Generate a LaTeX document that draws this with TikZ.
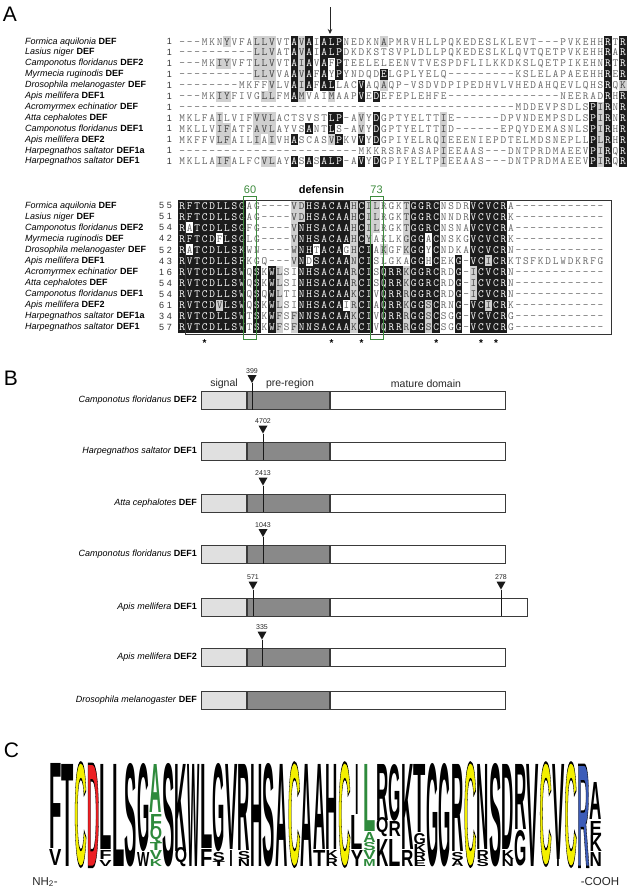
\documentclass[tikz,border=0pt]{standalone}
\usepackage{fontspec}
\setmainfont{Liberation Sans}
\setsansfont{Liberation Sans}
\usepackage{graphicx}
\usetikzlibrary{positioning,arrows.meta}

\definecolor{alnblack}{HTML}{1C1C1C}
\definecolor{alngray}{HTML}{D0D0D0}
\definecolor{alntext}{HTML}{666666}
\definecolor{motifgreen}{HTML}{3D8B3D}
\definecolor{signalgray}{HTML}{E0E0E0}
\definecolor{pregray}{HTML}{898989}
\definecolor{barline}{HTML}{3A3A3A}
\definecolor{logoyellow}{HTML}{F4F000}
\definecolor{logored}{HTML}{EC2024}
\definecolor{logoblue}{HTML}{3C5CB8}
\definecolor{logogreen}{HTML}{2E8A3C}

% alignment rows: one cell per residue, shading code k (black), g (grey), . (none)
\newcount\alncol
\newcommand\alnxo{178.5}
\newcommand\alnpitch{7.47}
\makeatletter
\newcommand\alnrow[4]{%
  \alncol=0
  \def\aln@nm{#1}\def\aln@y{#2}%
  \aln@step#3\@nil#4\@nil}
\def\aln@step#1#2\@nil#3#4\@nil{%
  \aln@cell{#1}{#3}%
  \advance\alncol by 1
  \ifx\relax#2\relax\expandafter\@gobble\else\expandafter\@firstofone\fi
  {\aln@step#2\@nil#4\@nil}}
\def\aln@cell#1#2{%
  \pgfmathsetmacro\aln@cx{\alnxo+(\the\alncol+0.5)*\alnpitch}%
  \if k#2%
    \fill[alnblack] (\aln@cx-3.76,\aln@y-5.55) rectangle (\aln@cx+3.76,\aln@y+5.55);
    \node[seqchar,text=white] (\aln@nm-\the\alncol) at (\aln@cx,\aln@y) {#1};
  \else\if g#2%
    \fill[alngray] (\aln@cx-3.76,\aln@y-5.55) rectangle (\aln@cx+3.76,\aln@y+5.55);
    \node[seqchar,text=black!75] (\aln@nm-\the\alncol) at (\aln@cx,\aln@y) {#1};
  \else
    \node[seqchar] (\aln@nm-\the\alncol) at (\aln@cx,\aln@y) {#1};
  \fi\fi}
\makeatother

% logo letters: column, top, bottom, colour, letter
\newcommand\lgl[5]{%
  \pgfmathsetmacro\lgx{49+(#1-2)*12.57}%
  \pgfmathsetmacro\lgh{#3-#2}%
  \node[logochar,text=#4] (lg#1#5) at (\lgx,#3) {\resizebox{12.3pt}{\lgh pt}{#5}};}
\newcommand\lgi[4]{%
  \pgfmathsetmacro\lgx{49+(#1-2)*12.57+6.15}%
  \pgfmathsetmacro\lgh{#3-#2}%
  \node[logochar,anchor=south,text=#4] (lg#1I) at (\lgx,#3) {\resizebox{3.4pt}{\lgh pt}{I}};}
% outlined letter: filled in colour, stroked in black
\newcommand\lgo[5]{%
  \pgfmathsetmacro\lgx{49+(#1-2)*12.57}%
  \pgfmathsetmacro\lgh{#3-#2}%
  \node[logochar,text=#4] (lg#1#5) at (\lgx,#3)
    {\resizebox{12.3pt}{\lgh pt}{\special{pdf:code 2 Tr 0.16 w 0 0 0 RG}#5}};}

\begin{document}
\begin{tikzpicture}[x=1pt,y=-1pt]
\tikzset{
  panellbl/.style={font=\fontsize{21}{21}\selectfont,inner sep=0pt},
  spname/.style={font=\fontsize{9}{10}\selectfont,inner sep=0pt,anchor=west},
  rownum/.style={font=\fontsize{9}{10}\selectfont,inner sep=0pt,anchor=east,text=black!80},
  seqchar/.style={font=\ttfamily\fontsize{11}{11}\selectfont,inner sep=0pt,text height=6.7pt,text depth=0pt,text=alntext},
  cutarrow/.style={draw=black!85,line width=0.9pt,-{Stealth[length=5pt,width=4.5pt]}},
  defbox/.style={draw=black!80,line width=0.8pt},
  motifbox/.style={draw=motifgreen,line width=0.9pt},
  motiflbl/.style={font=\fontsize{11}{11}\selectfont,text=motifgreen,inner sep=0pt},
  deflbl/.style={font=\bfseries\fontsize{11}{11}\selectfont,inner sep=0pt},
  consmark/.style={font=\bfseries\fontsize{10}{10}\selectfont,inner sep=0pt},
  hdrlbl/.style={font=\fontsize{10.5}{11}\selectfont,inner sep=0pt,text=black!85},
  barpart/.style={draw=barline,line width=0.9pt,minimum height=18pt,inner sep=0pt,anchor=west},
  intronfill/.style={fill=black!90},
  intronline/.style={draw=black!90,line width=0.9pt},
  intronlbl/.style={font=\fontsize{7}{7}\selectfont,inner sep=0pt,text=black!85},
  logochar/.style={font=\sffamily\bfseries,inner sep=0pt,anchor=south west},
  termlbl/.style={font=\fontsize{11.5}{12}\selectfont,inner sep=0pt,text=black!85}
}
\useasboundingbox (0,0) rectangle (633,892);

% ---- panel A ----
\node[panellbl] (lbl_A) at (10,14.5) {A};
\coordinate (cut_top) at (330,7);
\coordinate (cut_tip) at (330,34);
\draw[cutarrow] (cut_top) -- (cut_tip);

\foreach \sp/\df/\n [count=\i] in {Formica aquilonia/DEF/1, Lasius niger/DEF/1,
    Camponotus floridanus/DEF2/1, Myrmecia ruginodis/DEF/1, Drosophila melanogaster/DEF/1,
    Apis mellifera/DEF1/1, Acromyrmex echinatior/DEF/1, Atta cephalotes/DEF/1,
    Camponotus floridanus/DEF1/1, Apis mellifera/DEF2/1, Harpegnathos saltator/DEF1a/1,
    Harpegnathos saltator/DEF1/1}{
  \node[spname] (sp_t\i) at (25,{41.7+(\i-1)*10.9}) {\textit{\sp} \textbf{\df}};
  \node[rownum] (num_t\i) at (172,{41.7+(\i-1)*10.9}) {\n};
}

\alnrow{t1}{41.7}{---MKNYVFA LLVVTAVAIA LPNEDKNAPM RVHLLPQKED ESLKLEVT-- -PVKEHHRTR}{......g... ggg..kgk.k kk.....g.. .......... .......... .......k.k}
\alnrow{t2}{52.6}{---------- LLVATAVAIA LPDKDKSTSV PLDLLPQKED ESLKLQVTQE TPVKEHHRAR}{.......... ggg..kgk.k kk........ .......... .......... .......k.k}
\alnrow{t3}{63.5}{---MKIYVFT LLVVTAIAVA FPTEELELEE NVTVESPDFL ILKKDKSLQE TPIKEHNRTR}{.....gg... ggg..kgk.k .k........ .......... .......... .......k.k}
\alnrow{t4}{74.4}{---------- LLVVAAVAFA YPYNDQDELG PLYELQ---- -----KSLEL APAEEHHRER}{.......... ggg..kgk.k .k.....k.. .......... .......... .......k.k}
\alnrow{t5}{85.3}{--------MK FFVLVAIAFA LLACVAQAQP -VSDVDPIPE DHVLVHEDAH QEVLQHSRQK}{.......... ..g..kgk.k k...k..g.. .......... .......... .......k.g}
\alnrow{t6}{96.2}{---MKIYFIV GLLFMAMVAI MAAPVEDEFE PLEHFE---- ---------- -NEERADRHR}{.....gg... .gg..kg... g...k.k... .......... .......... .......k.k}
\alnrow{t7}{107.1}{---------- ---------- ---------- ---------- -----MDDEV PSDLSPIRNR}{.......... .......... .......... .......... .......... .....kgk.k}
\alnrow{t8}{118.0}{MKLFAILVIF VVLACTSVST LP-AVYDGPT YELTTIE--- ---DPVNDEM PSDLSPIRNR}{.....g.... ggg....... kk..g.k... .....g.... .......... .....kgk.k}
\alnrow{t9}{128.9}{MKLLVIFATF AVLAYVSANT LS-AVYDGPT YELTTID--- ---EPQYDEM ASNLSPIRHR}{.....gg... ggg....k.. k...g.k... .....g.... .......... .....kgk.k}
\alnrow{t10}{139.8}{MKFFVLFAIL IAIVHASCAS VPKVVYDGPI YELRQIEEEN IEPDTELMDS NEPLLPLRHR}{.....gg... g.g..k.... gk..k.k... .....g.... .......... .....kgk.k}
\alnrow{t11}{150.7}{---------- ---------- ----MKKRSR FASAPIEEAA S---DNTPRD MAEEVPIRQR}{.......... .......... .......... .....g.... .......... .....kgk.k}
\alnrow{t12}{161.6}{MKLLAIFALF CVLAYASASA LP-AVYDGPI YELTPIEEAA S---DNTPRD MAEEVPIRQR}{.....gg... .gg..k.k.k kk..k.k... .....g.... .......... .....kgk.k}

\foreach \sp/\df/\n [count=\i] in {Formica aquilonia/DEF/55, Lasius niger/DEF/51,
    Camponotus floridanus/DEF2/54, Myrmecia ruginodis/DEF/42, Drosophila melanogaster/DEF/52,
    Apis mellifera/DEF1/43, Acromyrmex echinatior/DEF/16, Atta cephalotes/DEF/54,
    Camponotus floridanus/DEF1/54, Apis mellifera/DEF2/61, Harpegnathos saltator/DEF1a/34,
    Harpegnathos saltator/DEF1/57}{
  \node[spname] (sp_b\i) at (25,{205.7+(\i-1)*11.05}) {\textit{\sp} \textbf{\df}};
  \node[rownum] (num_b\i) at (172,{205.7+(\i-1)*11.05}) {\addfontfeatures{LetterSpace=30}\n};
}

\alnrow{b1}{205.7}{RFTCDLLSGA G----VDHSA CAAHCILRGK TGGRCNSDRV CVCRA----- -------}{kkkkkkkkk. .....ggkkk kkkgkgg... gkkkk....k kkkk...... .......}
\alnrow{b2}{216.75}{RFTCDLLSGA G----VDHSA CAAHCILRGK TGGRCNNDRV CVCRK----- -------}{kkkkkkkkk. .....ggkkk kkkgkgg... gkkkk....k kkkk...... .......}
\alnrow{b3}{227.8}{RATCDLLSGF G----VNHSA CAAHCILRGK TGGRCNSNAV CVCRA----- -------}{k.kkkkkkk. .....gkkkk kkkgkgg... gkkkk....k kkkk...... .......}
\alnrow{b4}{238.85}{RFTCDFLSGL G----VNHSA CAAHCYAKLK GGGACNSKGV CVCRK----- -------}{kkkkk.kkk. .....gkkkk kkkgkg.... gkk.k....k kkkk...... .......}
\alnrow{b5}{249.9}{RATCDLLSKW N----WNHTA CAGHCIAKGF KGGYCNDKAV CVCRN----- -------}{k.kkkkkkk. .....gkk.k kk.gkk.g.. gkk.k....k kkkk...... .......}
\alnrow{b6}{260.95}{RVTCDLLSFK GQ---VNDSA CAANCISLGK AGGHCEKG-V CICRKTSFKD LWDKRFG}{kkkkkkkkk. .....gk.kk kkkgkk.... .kk.k..k.k kgkk...... .......}
\alnrow{b7}{272.0}{RVTCDLLSWQ SKWLSINHSA CAARCISQRR KGGRCRDG-I CVCRN----- -------}{kkkkkkkkk. k.kg..kkkk kkkgkk.kkk gkkkk..k.g kkkk...... .......}
\alnrow{b8}{283.05}{RVTCDLLSWQ SKWLSINHSA CAARCISQRR KGGRCRDG-I CVCRN----- -------}{kkkkkkkkk. k.kg..kkkk kkkgkk.kkk gkkkk..k.g kkkk...... .......}
\alnrow{b9}{294.1}{RVTCDLLSWQ SQWLTINHSA CAAKCIVQRR RGGRCRDG-I CVCRN----- -------}{kkkkkkkkk. k.kg..kkkk kkkgkk.kkk gkkkk..k.g kkkk...... .......}
\alnrow{b10}{305.15}{RVTCDVLSWQ SKWLSINHSA CAIRCIAQRR KGGSCRNG-V CICRK----- -------}{kkkkkgkkk. k.kg..kkkk kk.gkk.kkk gkkgk..k.k kgkk...... .......}
\alnrow{b11}{316.2}{RVTCDLLSWT SKWFSFNNSA CAAKCIVQRR RGGSCSGG-V CVCRG----- -------}{kkkkkkkkk. k.kg.gkkkk kkkgkk.kkk gkkgk..k.k kkkk...... .......}
\alnrow{b12}{327.25}{RVTCDLLSWT SKWFSFNNSA CAAKCIVQRR RGGSCSGG-V CVCRG----- -------}{kkkkkkkkk. k.kg.gkkkk kkkgkk.kkk gkkgk..k.k kkkk...... .......}

\draw[defbox] (185,200.5) rectangle (611,334);
\draw[motifbox] (243.5,196.5) rectangle (256.5,339.5);
\draw[motifbox] (370,196.5) rectangle (383,339.5);
\node[motiflbl] (motif_60) at (250,189.5) {60};
\node[motiflbl] (motif_73) at (376.5,189.5) {73};
\node[deflbl] (lbl_def) at (321.5,190) {defensin};
\foreach \c [count=\k] in {4,21,25,35,41,43}
  \node[consmark] (cons\k) at ({\alnxo+(\c-0.5)*\alnpitch},343) {*};

% ---- panel B ----
\node[panellbl] (lbl_B) at (11,378.5) {B};
\node[hdrlbl] (hdr_sig) at (224,384) {signal};
\node[hdrlbl] (hdr_pre) at (290,384) {pre-region};
\node[hdrlbl] (hdr_mat) at (426,384) {mature domain};

\foreach \sp/\df/\yc/\len [count=\i] in {Camponotus floridanus/DEF2/400.5/175,
    Harpegnathos saltator/DEF1/451/175, Atta cephalotes/DEF/503/175,
    Camponotus floridanus/DEF1/554.5/175, Apis mellifera/DEF1/607/197.5,
    Apis mellifera/DEF2/657/175, Drosophila melanogaster/DEF/700.5/175}{
  \node[spname,anchor=east] (gene\i) at (197,\yc) {\textit{\sp} \textbf{\df}};
  \node[barpart,fill=signalgray,minimum width=45pt] (sig\i) at (201,\yc) {};
  \node[barpart,fill=pregray,minimum width=82pt] (pre\i) at (sig\i.east) {};
  \node[barpart,fill=white,minimum width=\len pt] (mat\i) at (pre\i.east) {};
}

\foreach \r/\ix/\lbl [count=\k] in {1/252/399, 2/263/4702, 3/263/2413, 4/263/1043,
    5/253/571, 5/501/278, 6/262/335}{
  \coordinate (ibase\k) at (sig\r.north -| \ix,0);
  \coordinate[above=8pt of ibase\k] (itip\k);
  \fill[intronfill] (itip\k) -- ++(-4.5,-8) -- ++(9,0) -- cycle;
  \draw[intronline] (itip\k) -- (itip\k |- mat\r.south);
  \node[intronlbl,above=9.5pt of itip\k] (ilbl\k) {\lbl};
}

% ---- panel C ----
\node[panellbl] (lbl_C) at (11.5,750.5) {C};
\lgl{2}{764}{849}{black}{F} \lgl{2}{850}{866}{black}{V}
\lgl{3}{765}{867}{black}{T}
\lgo{4}{764}{867}{logoyellow}{C}
\lgo{5}{764}{867}{logored}{D}
\lgl{6}{765}{850}{black}{L} \lgl{6}{851}{860}{black}{F} \lgl{6}{861}{867}{black}{V}
\lgl{7}{765}{867}{black}{L}
\lgl{8}{765}{867}{black}{S}
\lgl{9}{765}{852}{black}{G} \lgl{9}{853}{867}{black}{W}
\lgl{10}{765}{813}{logogreen}{A} \lgl{10}{815}{830}{logogreen}{F} \lgl{10}{830}{843}{logogreen}{Q}
\lgl{10}{843}{851}{logogreen}{T} \lgl{10}{851}{860}{logogreen}{V} \lgl{10}{860}{867}{logogreen}{K}
\lgl{11}{765}{867}{black}{S}
\lgl{12}{765}{852}{black}{K} \lgl{12}{852}{867}{black}{Q}
\lgl{13}{765}{867}{black}{W}
\lgl{14}{765}{849}{black}{L} \lgl{14}{850}{867}{black}{F}
\lgl{15}{765}{852}{black}{G} \lgl{15}{853}{862}{black}{S} \lgl{15}{862}{867}{black}{T}
\lgl{16}{765}{850}{black}{V} \lgi{16}{851}{867}{black}
\lgl{17}{765}{851}{black}{R} \lgl{17}{852}{860}{black}{S} \lgl{17}{860}{867}{black}{N}
\lgl{18}{765}{867}{black}{H}
\lgl{19}{765}{867}{black}{S}
\lgl{20}{765}{867}{black}{A}
\lgo{21}{764}{867}{logoyellow}{C}
\lgl{22}{765}{867}{black}{A}
\lgl{23}{765}{850}{black}{A} \lgl{23}{851}{867}{black}{T}
\lgl{24}{765}{850}{black}{H} \lgl{24}{851}{859}{black}{K} \lgl{24}{859}{867}{black}{R}
\lgo{25}{764}{867}{logoyellow}{C}
\lgi{26}{765}{815}{black} \lgl{26}{816}{850}{black}{L} \lgl{26}{851}{867}{black}{Y}
\lgl{27}{765}{832}{logogreen}{L} \lgl{27}{833}{843}{logogreen}{A} \lgl{27}{843}{851}{logogreen}{S}
\lgl{27}{851}{860}{logogreen}{V} \lgl{27}{860}{867}{logogreen}{M}
\lgl{28}{765}{821}{black}{R} \lgl{28}{822}{837}{black}{Q} \lgl{28}{840}{867}{black}{K}
\lgl{29}{765}{821}{black}{G} \lgl{29}{822}{837}{black}{R} \lgl{29}{840}{867}{black}{L}
\lgl{30}{765}{850}{black}{K} \lgl{30}{851}{867}{black}{R}
\lgl{31}{765}{833}{black}{T} \lgl{31}{834}{845}{black}{G} \lgl{31}{845}{853}{black}{K}
\lgl{31}{853}{861}{black}{R} \lgl{31}{861}{867}{black}{E}
\lgl{32}{765}{867}{black}{G}
\lgl{33}{765}{867}{black}{G}
\lgl{34}{765}{852}{black}{R} \lgl{34}{853}{861}{black}{S} \lgl{34}{861}{867}{black}{A}
\lgo{35}{764}{867}{logoyellow}{C}
\lgl{36}{765}{850}{black}{N} \lgl{36}{851}{860}{black}{R} \lgl{36}{860}{867}{black}{S}
\lgl{37}{765}{867}{black}{S}
\lgl{38}{765}{850}{black}{D} \lgl{38}{851}{860}{black}{K} \lgl{38}{860}{867}{black}{N}
\lgl{39}{765}{830}{black}{R} \lgl{39}{831}{866}{black}{G}
\lgl{40}{765}{867}{black}{V}
\lgo{41}{764}{866}{logoyellow}{C}
\lgl{42}{765}{860}{black}{V} \lgi{42}{860}{867}{black}
\lgo{43}{764}{867}{logoyellow}{C}
\lgo{44}{765}{867}{logoblue}{R}
\lgl{45}{783}{820}{black}{A} \lgl{45}{822}{836}{black}{E} \lgl{45}{836}{852}{black}{K} \lgl{45}{853}{867}{black}{N}

\node[termlbl] (nterm) at (45,882) {NH\textsubscript{2}-};
\node[termlbl] (cterm) at (600,882) {-COOH};
\end{tikzpicture}
\end{document}
